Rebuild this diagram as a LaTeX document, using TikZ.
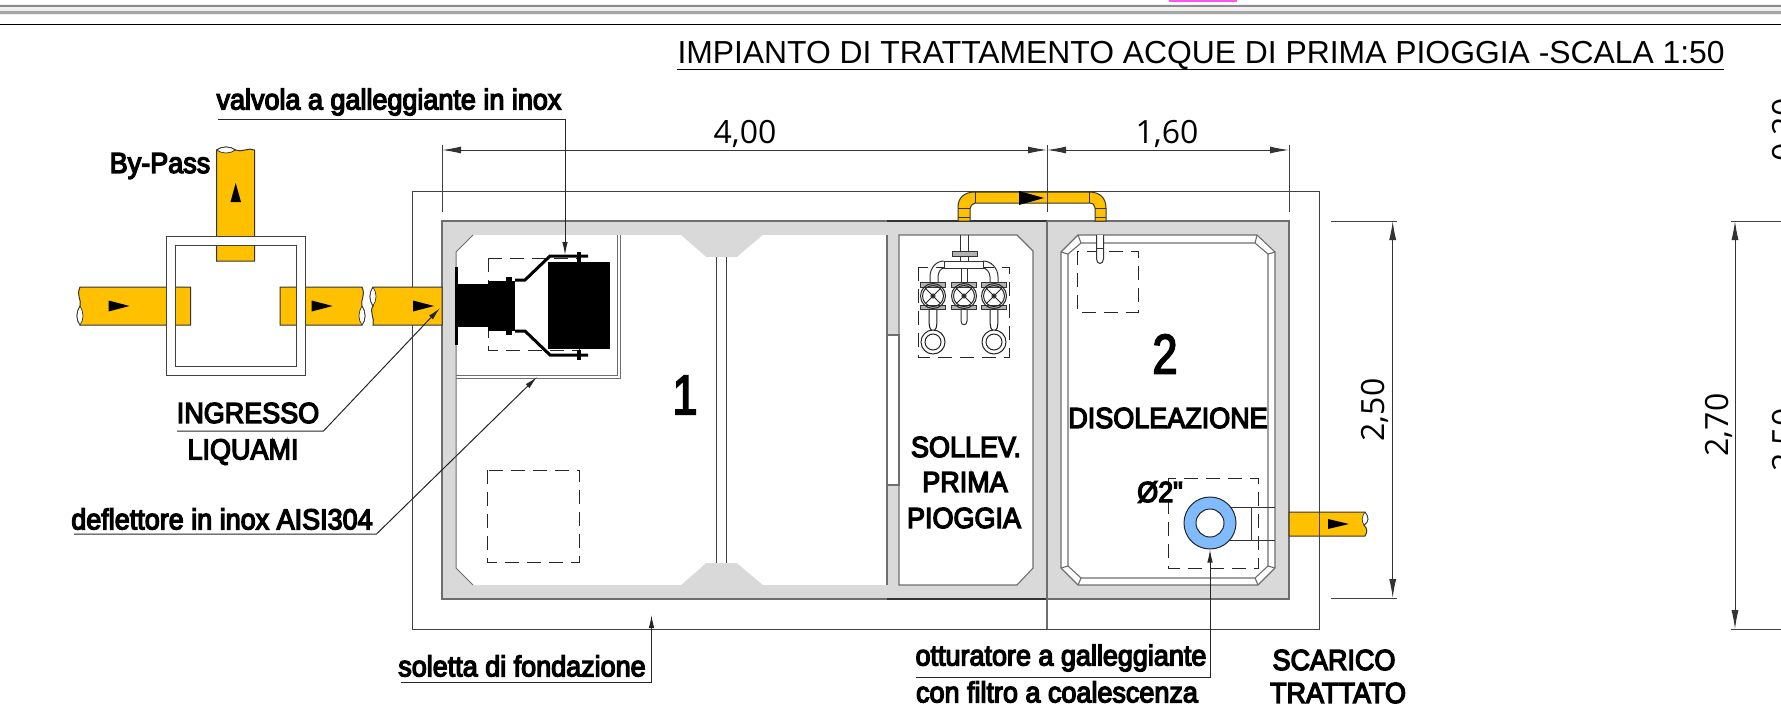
\documentclass[tikz,border=0pt]{standalone}
\usepackage{fontspec}
\usepackage{tikz}
\usetikzlibrary{arrows.meta}
\setmainfont{Liberation Sans}
\newfontfamily\cadfont[FakeStretch=0.93,FakeBold=4.5]{Liberation Sans}
\newfontfamily\numfont[FakeStretch=0.8,FakeBold=3]{Liberation Sans}
\newfontfamily\dimfont{Open Sans}
\definecolor{pipeorange}{HTML}{FFC000}
\definecolor{wallgray}{HTML}{D9D9D9}
\definecolor{linegray}{HTML}{6E6E6E}
\definecolor{ringblue}{HTML}{80BBFF}
\definecolor{sheetmark}{HTML}{FF55EE}
\begin{document}
\begin{tikzpicture}[x=1pt, y=-1pt, line width=1pt]
	\tikzstyle{pipe} = [draw=black!80, fill=pipeorange]
	\tikzstyle{lens} = [draw=black!80, fill=white, line width=0.7pt]
	\tikzstyle{wall} = [draw=linegray, line width=1.1pt]
	\tikzstyle{dashbox} = [draw=black!85, line width=0.9pt, dash pattern=on 14pt off 8pt]
	\tikzstyle{label} = [inner sep=0pt, font=\cadfont\fontsize{29}{31}\selectfont]
	\tikzstyle{dimtext} = [inner sep=0pt, font=\dimfont\fontsize{32}{34}\selectfont]
	\tikzstyle{dimline} = [draw=black!80, {Latex[length=19pt,width=7pt]}-{Latex[length=19pt,width=7pt]}]
	\tikzstyle{leader} = [draw=black!85, -{Latex[length=13pt,width=5.5pt]}]
	\tikzstyle{extline} = [draw=black!75]

	\clip (0,0) rectangle (1781,720);

	% sheet lines on top
	\fill[black!6] (0,4) rectangle (1781,15);
	\fill[black!45] (0,5) rectangle (1781,7);
	\fill[black!35] (0,10.5) rectangle (1781,13.5);
	\draw[black, line width=1.4pt] (0,24.5) -- (1781,24.5);
	\draw[sheetmark, line width=1.2pt] (1170,-1) rectangle (1236,1);

	% title
	\node[inner sep=0pt, font=\fontsize{31.85}{34}\selectfont, anchor=base west] (title) at (677,63) {IMPIANTO DI TRATTAMENTO ACQUE DI PRIMA PIOGGIA -SCALA 1:50};
	\coordinate (titleL) at (677,69.5);
	\coordinate (titleR) at (1724,69.5);
	\draw[black] (titleL) -- (titleR);

	% slab and tank
	\draw[extline] (412,191) rectangle (1319,629);
	\draw[wall, fill=wallgray] (442,221) rectangle (1289,599);

	% chamber 1
	\fill[white] (473,235) -- (681,235) -- (706,257) -- (737,257) -- (763,235) -- (887,235)
		-- (887,585) -- (763,585) -- (737,563) -- (706,563) -- (681,585) -- (473,585)
		-- (456,568) -- (456,252) -- cycle;
	\draw[linegray] (473,235) -- (456,252) -- (456,568) -- (473,585);
	\draw[black!75] (716.5,257) -- (716.5,563) (726,257) -- (726,563);

	% chamber sollev
	\draw[wall, fill=white] (899,235) -- (1017,235) -- (1033,251) -- (1033,568) -- (1017,585) -- (899,585) -- cycle;
	\draw[wall, fill=white] (887,335) rectangle (899,485);
	\draw[wall] (887,235) -- (887,585);

	% chamber 2
	\draw[wall, fill=white] (1078,235) -- (1257,235) -- (1275,252) -- (1275,568) -- (1258,585) -- (1078,585) -- (1061,568) -- (1061,252) -- cycle;
	\draw[wall] (1081,243) -- (1255,243) -- (1268,254) -- (1268,566) -- (1255,578) -- (1081,578) -- (1068,566) -- (1068,254) -- cycle;
	\draw[wall] (1078,235) -- (1081,243) (1061,252) -- (1068,254)
		(1257,235) -- (1255,243) (1275,252) -- (1268,254)
		(1061,568) -- (1068,566) (1078,585) -- (1081,578)
		(1275,568) -- (1268,566) (1258,585) -- (1255,578);

	\draw[black!80, line width=1.3pt] (887,221) -- (1047,221) (887,599) -- (1047,599);
	\draw[linegray, line width=1.2pt] (1047,221) -- (1047,629);

	% deflector box
	\draw[linegray] (456,375) -- (617.5,375) -- (617.5,235);
	\draw[linegray] (456,378) -- (620.5,378) -- (620.5,235);

	% dashed boxes
	\draw[dashbox] (488,258) rectangle (579,350);
	\draw[dashbox] (487,470) rectangle (579,562);
	\draw[dashbox] (918,267) rectangle (1009,357);
	\draw[dashbox] (1077,251) rectangle (1138,312);
	\draw[dashbox] (1168,478) rectangle (1258,568);

	% float valve
	\fill[black] (454.5,267) rectangle (457.5,345);
	\fill[black] (456,284) rectangle (488,327);
	\fill[black] (488,281) rectangle (515,331);
	\fill[black] (506,277) rectangle (512,335);
	\fill[black] (548,262) rectangle (610,349);
	\draw[black, line width=3pt] (515,280) -- (525,280) -- (550,256) -- (588,256);
	\draw[black, line width=3pt] (515,331) -- (525,331) -- (550,355) -- (588,355);
	\draw[black, line width=4pt] (579,252) -- (579,262) (579,350) -- (579,360);

	% manhole with pipes
	\draw[pipe] (80,287) .. controls (76,296) and (82,300) .. (80,306) .. controls (76,312) and (76,320) .. (80,325) -- (190.5,325) -- (190.5,287) -- cycle;
	\draw[lens] (80,306) .. controls (76,312) and (76,320) .. (80,325) .. controls (84,320) and (84,312) .. (80,306);
	\draw[pipe] (280,287) -- (362,287) .. controls (366,296) and (360,300) .. (362,306) .. controls (366,312) and (366,320) .. (362,325) -- (280,325) -- cycle;
	\draw[lens] (362,306) .. controls (366,312) and (366,320) .. (362,325) .. controls (358,320) and (358,312) .. (362,306);
	\draw[pipe] (373,287) .. controls (369,293) and (369,300) .. (373,306) .. controls (369,312) and (375,318) .. (373,325) -- (442,325) -- (442,287) -- cycle;
	\draw[lens] (373,287) .. controls (369,293) and (369,300) .. (373,306) .. controls (377,300) and (377,293) .. (373,287);
	\draw[pipe] (216.5,150) .. controls (222,146) and (230,146) .. (235.5,150) .. controls (241,153) and (249,147) .. (254.5,150) -- (254.5,261) -- (216.5,261) -- cycle;
	\draw[lens] (216.5,150) .. controls (222,146) and (230,146) .. (235.5,150) .. controls (230,154) and (222,154) .. (216.5,150);
	\draw[draw=black!75, fill=white, even odd rule] (166,236) rectangle (305,375) (175,245) rectangle (296.5,366);

	% jumper between chambers
	\draw[pipe] (958,221) -- (958,207) .. controls (958,198) and (964,192) .. (975,192) -- (1089,192)
		.. controls (1100,192) and (1106,198) .. (1106,208) -- (1106,221) -- (1095,221) -- (1095,208)
		.. controls (1095,205) and (1093,203) .. (1089,203) -- (975,203) .. controls (972,204) and (970,206) .. (970,209) -- (970,221) -- cycle;
	\draw[black!80] (975,192) -- (975,203) (1089,192) -- (1089,203)
		(958,208) -- (970,208) (958,217) -- (970,217) (1095,208) -- (1106,208) (1095,217) -- (1106,217);

	% outlet
	\draw[pipe] (1289,512) -- (1365,512) .. controls (1369,517) and (1369,522) .. (1364,525) .. controls (1368,529) and (1367,533) .. (1365,536) -- (1289,536) -- cycle;
	\draw[lens] (1365,512) .. controls (1369,517) and (1369,522) .. (1364,525) .. controls (1361,521) and (1362,516) .. (1365,512);
	\draw[extline] (1319,505) -- (1319,545);
	\draw[black!80] (1210,507) -- (1275,507) (1210,540) -- (1275,540) (1251,507) -- (1251,540);
	\node[draw=black!85, fill=ringblue, circle, minimum size=52pt, inner sep=0pt] (ring) at (1210,523) {};
	\node[draw=black!85, fill=white, circle, minimum size=28pt, inner sep=0pt] (ringhole) at (1210,523) {};

	% flow arrows
	\foreach \x in {108.5,311.6,413}
		\fill[black] (\x,300.5) -- (\x+21,306) -- (\x,311.5) -- cycle;
	\fill[black] (230.5,202) -- (235.7,183) -- (241,202) -- cycle;
	\fill[black] (1328,519) -- (1349,524) -- (1328,529) -- cycle;
	\fill[black] (1019,191) -- (1044,198) -- (1019,205) -- cycle;

	% small pipe in chamber 2
	\draw[black!80, fill=white] (1096.5,235) -- (1096.5,259) .. controls (1097,265) and (1103,265) .. (1103.5,259) -- (1103.5,235);
	\draw[black!80] (1096.5,248) -- (1103.5,248);

	% pump manifold
	\draw[black!80] (960,235) -- (960,251) (968,235) -- (968,251) (960,256) -- (960,261) (968,256) -- (968,261);
	\draw[black!80, fill=black!30] (952,251) rectangle (977,256);
	\draw[black!80, fill=white] (944,261) rectangle (983,268);
	\draw[black!80] (944,261) .. controls (936,261) and (930,268) .. (930,277) -- (930,282)
		(944,268) .. controls (941,268) and (938,272) .. (938,277) -- (938,282)
		(983,261) .. controls (991,261) and (998,268) .. (998,277) -- (998,282)
		(983,268) .. controls (986,268) and (990,272) .. (990,277) -- (990,282);
	\draw[black!80] (961,268) -- (961,282) (967,268) -- (967,282);
	\draw[black!80] (961,309) -- (961,321) .. controls (961,326) and (967,326) .. (967,321) -- (967,309);
	\foreach \x in {933,964,994} {
		\draw[black!80, fill=black!30] (\x-12.5,282) rectangle (\x+12.5,287) (\x-12.5,305) rectangle (\x+12.5,309.5);
		\draw[black!85] (\x,296) circle[radius=12.5] (\x,296) circle[radius=10.5] (\x,296) circle[radius=2];
		\draw[black!85, line width=0.8pt] (\x-7.5,288.5) -- (\x+7.5,303.5) (\x+7.5,288.5) -- (\x-7.5,303.5);
	}
	\foreach \x in {933,994} {
		\draw[black!90] (\x-3.8,309.5) -- (\x-3.8,324) .. controls (\x-3.8,327) and (\x-3,329) .. (\x-1,331)
			(\x+3.8,309.5) -- (\x+3.8,324) .. controls (\x+3.8,327) and (\x+3,329) .. (\x+1,331);
		\draw[black!85, fill=white] (\x,342) circle[radius=12] (\x,342) circle[radius=8];
	}

	% labels
	\node[label] (bypass) at (160,166) {By-Pass};
	\node[label] (valvola) at (389,102) {valvola a galleggiante in inox};
	\node[label] (ingresso) at (248,413) {INGRESSO};
	\node[label] (liquami) at (243,452) {LIQUAMI};
	\node[label] (deflettore) at (222,519) {deflettore in inox AISI304};
	\node[label] (soletta) at (522,666) {soletta di fondazione};
	\node[label] (otturatore) at (1061,658) {otturatore a galleggiante};
	\node[label] (filtro) at (1057,692) {con filtro a coalescenza};
	\node[label] (scarico) at (1334,660) {SCARICO};
	\node[label] (trattato) at (1338,693) {TRATTATO};
	\node[label] (sollev) at (966,447) {SOLLEV.};
	\node[label] (prima) at (965,482) {PRIMA};
	\node[label] (pioggia) at (964,518) {PIOGGIA};
	\node[label] (disol) at (1168,418) {DISOLEAZIONE};
	\node[label] (diam) at (1160,492) {Ø2"};
	\node[inner sep=0pt, font=\numfont\fontsize{56}{58}\selectfont] (uno) at (685,395) {1};
	\node[inner sep=0pt, font=\numfont\fontsize{56}{58}\selectfont] (due) at (1165,354) {2};

	% leaders
	\coordinate (valvolaL) at (218,119);
	\coordinate (valvolaK) at (565,119);
	\coordinate (valvolaT) at (565,255);
	\draw[leader] (valvolaL) -- (valvolaK) -- (valvolaT);
	\coordinate (ingressoL) at (177,431);
	\coordinate (ingressoK) at (323.5,431);
	\coordinate (ingressoT) at (440,308);
	\draw[leader] (ingressoL) -- (ingressoK) -- (ingressoT);
	\coordinate (deflL) at (74,534);
	\coordinate (deflK) at (376.5,534);
	\coordinate (deflT) at (537,377);
	\draw[leader] (deflL) -- (deflK) -- (deflT);
	\coordinate (solettaL) at (400.5,682);
	\coordinate (solettaK) at (651.5,682);
	\coordinate (solettaT) at (651.5,615);
	\draw[leader] (solettaL) -- (solettaK) -- (solettaT);
	\coordinate (ottL) at (916,677);
	\coordinate (ottK) at (1210,677);
	\draw[leader] (ottL) -- (ottK) -- (ring.south);

	% dimensions
	\coordinate (dimA) at (442,150);
	\coordinate (dimB) at (1047,150);
	\coordinate (dimC) at (1289,150);
	\draw[extline] (442,145) -- (442,212) (1047,145) -- (1047,212) (1289,145) -- (1289,212);
	\draw[dimline] (dimA) -- (dimB);
	\draw[dimline] (dimB) -- (dimC);
	\node[dimtext] (quota400) at (745,134) {4,00};
	\node[dimtext] (quota160) at (1167,134) {1,60};

	\coordinate (dimD) at (1392.7,221);
	\coordinate (dimE) at (1392.7,598);
	\draw[extline] (1331,221) -- (1397,221) (1331,598) -- (1397,598);
	\draw[dimline] (dimD) -- (dimE);
	\node[dimtext, rotate=90] (quota250) at (1375,410) {2,50};

	\coordinate (dimF) at (1735,221);
	\coordinate (dimG) at (1735,629);
	\draw[extline] (1731,221) -- (1781,221) (1731,629) -- (1781,629);
	\draw[dimline] (dimF) -- (dimG);
	\node[dimtext, rotate=90] (quota270) at (1719,425) {2,70};
	\node[dimtext, rotate=90] (quota020) at (1786,130) {0,20};
	\node[dimtext, rotate=90] (quota250b) at (1786,440) {2,50};
\end{tikzpicture}
\end{document}
